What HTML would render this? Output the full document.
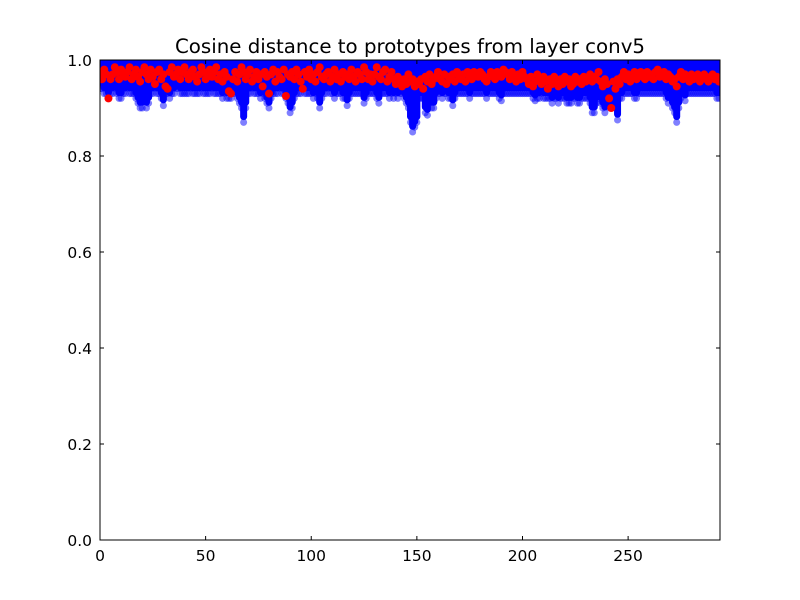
<!DOCTYPE html>
<html><head><meta charset="utf-8">
<style>
body{margin:0;background:#fff;}
svg{display:block;font-family:"DejaVu Sans","Liberation Sans",sans-serif;}
</style></head>
<body>
<svg id="chart" width="800" height="600" viewBox="0 0 800 600" xmlns="http://www.w3.org/2000/svg">
<rect width="800" height="600" fill="#fff"/>
<text x="410" y="53" font-size="19.8" text-anchor="middle">Cosine distance to prototypes from layer conv5</text>
<g id="plot"></g>
<g id="axes"></g>
</svg>
<script>
const xTicks=[0,50,100,150,200,250];
const yTicks=[0.0,0.2,0.4,0.6,0.8,1.0];
const blueMin=[
.94,.94,.93,.93,.92,.93,.93,.94,.93,.92,
.92,.93,.93,.94,.93,.93,.93,.92,.91,.90,
.90,.93,.90,.91,.93,.93,.94,.93,.93,.92,
.905,.93,.93,.92,.93,.93,.94,.94,.93,.93,
.93,.93,.93,.94,.93,.93,.93,.93,.94,.93,
.93,.93,.93,.94,.93,.93,.93,.93,.92,.93,
.92,.92,.92,.93,.93,.92,.91,.90,.87,.90,
.93,.93,.94,.93,.93,.93,.92,.93,.92,.91,
.90,.92,.93,.93,.93,.94,.93,.93,.92,.91,
.89,.90,.92,.93,.93,.93,.94,.93,.93,.93,
.93,.92,.93,.92,.90,.92,.93,.93,.94,.93,
.93,.92,.93,.93,.93,.92,.92,.905,.92,.93,
.93,.93,.93,.93,.93,.91,.92,.93,.93,.93,
.93,.92,.91,.93,.93,.93,.93,.92,.93,.92,
.93,.92,.93,.93,.92,.91,.90,.87,.85,.86,
.87,.92,.92,.92,.89,.885,.92,.90,.90,.92,
.93,.93,.92,.93,.93,.92,.92,.905,.92,.93,
.93,.93,.93,.93,.93,.92,.93,.93,.93,.93,
.93,.93,.93,.92,.93,.93,.93,.93,.93,.92,
.915,.93,.93,.93,.93,.93,.93,.93,.93,.93,
.93,.93,.93,.93,.93,.92,.915,.92,.92,.93,
.92,.92,.92,.92,.91,.92,.92,.91,.92,.92,
.92,.91,.91,.91,.92,.92,.91,.91,.92,.92,
.92,.92,.91,.89,.89,.91,.92,.91,.90,.89,
.91,.90,.90,.91,.90,.875,.92,.92,.93,.93,
.93,.93,.93,.92,.92,.93,.93,.93,.93,.93,
.93,.93,.93,.93,.93,.93,.93,.93,.92,.91,
.93,.90,.89,.87,.90,.92,.93,.915,.93,.93,
.93,.93,.93,.93,.93,.93,.93,.93,.93,.93,
.93,.93,.92,.92];
const blueMax=0.995;
const redVals=[
.97,.96,.98,.97,.92,.96,.97,.985,.975,.96,
.98,.97,.965,.975,.985,.96,.97,.98,.965,.955,
.975,.985,.97,.96,.98,.965,.95,.975,.98,.96,
.97,.945,.94,.975,.985,.965,.97,.98,.96,.975,
.985,.97,.96,.975,.98,.965,.955,.97,.985,.975,
.96,.97,.98,.965,.975,.985,.96,.97,.955,.975,
.965,.935,.93,.96,.975,.955,.97,.985,.975,.96,
.97,.98,.955,.965,.975,.96,.97,.945,.975,.965,
.93,.97,.98,.955,.975,.965,.96,.98,.925,.97,
.965,.975,.96,.98,.97,.955,.94,.975,.965,.98,
.96,.97,.955,.975,.985,.965,.96,.97,.975,.955,
.965,.98,.96,.97,.955,.975,.965,.97,.96,.98,
.965,.955,.975,.97,.96,.985,.975,.96,.97,.955,
.97,.985,.965,.96,.975,.98,.955,.965,.975,.96,
.95,.965,.955,.945,.96,.95,.97,.955,.96,.945,
.955,.95,.96,.94,.965,.955,.97,.95,.96,.965,
.975,.96,.955,.97,.95,.965,.96,.97,.955,.975,
.965,.96,.97,.955,.975,.965,.96,.975,.97,.965,
.975,.97,.96,.955,.965,.975,.97,.96,.975,.97,
.965,.98,.975,.97,.96,.975,.965,.955,.97,.96,
.975,.965,.96,.95,.965,.945,.955,.97,.96,.95,
.965,.955,.94,.96,.95,.965,.955,.945,.96,.95,
.965,.955,.96,.945,.95,.965,.955,.96,.95,.965,
.955,.96,.97,.955,.965,.96,.975,.955,.945,.96,
.95,.92,.90,.955,.94,.96,.95,.965,.975,.96,
.97,.955,.965,.975,.96,.97,.975,.965,.96,.975,
.965,.97,.96,.975,.98,.965,.97,.975,.96,.97,
.965,.955,.96,.945,.965,.975,.96,.97,.965,.955,
.97,.96,.965,.97,.955,.965,.97,.96,.955,.965,
.97,.96,.965,.955];
const X0=100,X1=720,Y0=540,Y1=60,XMAX=293.5;
function sx(v){return X0+(v/XMAX)*(X1-X0);}
function sy(v){return Y0-v*(Y0-Y1);}
const NS="http://www.w3.org/2000/svg";
const plot=document.getElementById('plot');
const axes=document.getElementById('axes');
function mk(tag,attrs,parent){const e=document.createElementNS(NS,tag);for(const k in attrs)e.setAttribute(k,attrs[k]);parent.appendChild(e);return e;}
const clip=mk('clipPath',{id:'c'},document.getElementById('chart'));
mk('rect',{x:X0,y:Y1,width:X1-X0,height:Y0-Y1},clip);
plot.setAttribute('clip-path','url(#c)');
blueMin.forEach((v,i)=>{
  const o=mk('circle',{cx:sx(i),cy:sy(v),r:3.5,fill:'#0000ff','fill-opacity':0.5},plot);
  
  
  const l=mk('line',{x1:sx(i),x2:sx(i),y1:sy(Math.min(v+0.012,blueMax)),y2:sy(blueMax),stroke:'#0000ff','stroke-width':7,'stroke-linecap':'round'},plot);
  
  
});
redVals.forEach((v,i)=>{
  const c=mk('circle',{cx:sx(i),cy:sy(v),r:4,fill:'#ff0000'},plot);
  
  
});
const frame=mk('rect',{x:X0,y:Y1,width:X1-X0,height:Y0-Y1,fill:'none',stroke:'#000','stroke-width':1},axes);


xTicks.forEach(t=>{
  const x=sx(t);
  mk('line',{x1:x,x2:x,y1:Y0,y2:Y0-4,stroke:'#000'},axes);
  mk('line',{x1:x,x2:x,y1:Y1,y2:Y1+4,stroke:'#000'},axes);
  const tx=mk('text',{x:x,y:Y0+21,'font-size':15.5,'text-anchor':'middle'},axes);
  tx.textContent=String(t);
  
  
});
yTicks.forEach(t=>{
  const y=sy(t);
  mk('line',{x1:X0,x2:X0+4,y1:y,y2:y,stroke:'#000'},axes);
  mk('line',{x1:X1,x2:X1-4,y1:y,y2:y,stroke:'#000'},axes);
  const tx=mk('text',{x:X0-8,y:y+6,'font-size':15.5,'text-anchor':'end'},axes);
  tx.textContent=t.toFixed(1);
  
  
});
</script>
</body></html>
